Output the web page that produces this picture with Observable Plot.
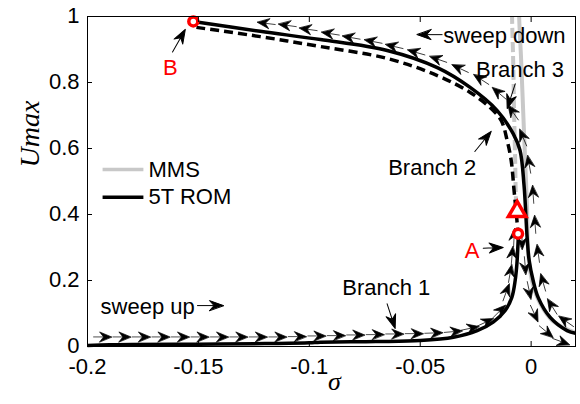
<!DOCTYPE html>
<html><head><meta charset="utf-8">
<script src="https://cdn.jsdelivr.net/npm/d3@7"></script>
<script src="https://cdn.jsdelivr.net/npm/@observablehq/plot@0.6"></script>
<style>
body{margin:0;background:#fff;}
#chart svg{display:block;}
</style></head><body><div id="chart"></div>
<script>
// ---------- data ----------
const xTicks = [-0.2, -0.15, -0.1, -0.05, 0];
const yTicks = [0, 0.2, 0.4, 0.6, 0.8, 1];

// 5T ROM, branch 1 (stable, lower)
const b1Sigma = [-0.2, -0.19, -0.18, -0.15, -0.12, -0.1, -0.095, -0.07, -0.05, -0.035, -0.0243, -0.0171, -0.0117, -0.0087, -0.0072, -0.0064, -0.006, -0.0057];
const b1U     = [0.003, 0.005, 0.006, 0.007, 0.009, 0.011, 0.013, 0.015, 0.018, 0.028, 0.048, 0.074, 0.109, 0.149, 0.2, 0.252, 0.301, 0.342];
// 5T ROM, branch 2 (unstable, dashed)
const b2Sigma = [-0.1509, -0.1221, -0.095, -0.0649, -0.0423, -0.0275, -0.0185, -0.0135, -0.0108, -0.009, -0.0077, -0.0068, -0.0059];
const b2U     = [0.967, 0.939, 0.909, 0.873, 0.821, 0.77, 0.724, 0.685, 0.624, 0.564, 0.473, 0.412, 0.342];
// 5T ROM, branch 3 (stable, upper)
const b3Sigma = [-0.1523, -0.1221, -0.095, -0.0649, -0.0423, -0.0275, -0.0153, -0.0081, -0.005, -0.0032, -0.0018, -0.0009, 0.0009, 0.0032, 0.0086, 0.0162, 0.02];
const b3U     = [0.985, 0.955, 0.93, 0.897, 0.845, 0.785, 0.715, 0.645, 0.594, 0.488, 0.33, 0.261, 0.2, 0.148, 0.088, 0.048, 0.04];
// MMS stable and unstable
const mmsSigma  = [-0.0054, -0.0054, -0.0045, -0.0036, -0.0027, -0.0018, -0.0014, -0.0005, 0.0009, 0.0041, 0.0095, 0.0176, 0.0203];
const mmsU      = [1.05, 1.0, 0.867, 0.715, 0.564, 0.412, 0.291, 0.23, 0.185, 0.13, 0.079, 0.048, 0.042];
const mmsUnSigma = [-0.0086, -0.0086, -0.0081, -0.0077, -0.0072, -0.0068, -0.0063];
const mmsUnU     = [1.05, 1.0, 0.867, 0.715, 0.564, 0.442, 0.409];

// sweep-up direction markers
const upSigma = [-0.1932, -0.1845, -0.1757, -0.1669, -0.1581, -0.1493, -0.1405, -0.1318, -0.123, -0.1142, -0.1054, -0.0966, -0.0878, -0.0791, -0.0703, -0.0615, -0.0527, -0.0439, -0.0351, -0.0275, -0.0207, -0.0144, -0.0113, -0.0095, -0.0086, -0.0077,
                 -0.0041, -0.0027, -0.0009, 0.0014, 0.0068, 0.0135];
const upU     = [0.029, 0.029, 0.029, 0.029, 0.029, 0.029, 0.029, 0.029, 0.029, 0.029, 0.03, 0.032, 0.033, 0.035, 0.036, 0.038, 0.039, 0.041, 0.045, 0.055, 0.073, 0.106, 0.164, 0.221, 0.276, 0.33,
                 0.321, 0.245, 0.17, 0.1, 0.045, 0.015];
const upAngle = [90, 90, 90, 90, 90, 90, 90, 90, 90, 90, 90, 90, 90, 90, 90, 90, 90, 88, 85, 78, 65, 45, 20, 10, 5, 3,
                 178, 175, 168, 155, 130, 110];
// sweep-down direction markers
const downSigma = [0.0158, 0.0095, 0.0054, 0.0032, 0.0018, 0.0009, -0.0009, -0.0036, -0.0081, -0.0144, -0.0225, -0.032, -0.0419, -0.0518, -0.0617, -0.0712, -0.0811, -0.0905, -0.1005, -0.1099, -0.1194];
const downU     = [0.076, 0.121, 0.194, 0.282, 0.37, 0.461, 0.552, 0.633, 0.709, 0.767, 0.809, 0.842, 0.87, 0.891, 0.909, 0.924, 0.936, 0.948, 0.961, 0.973, 0.979];
const downAngle = [305, 328, 344, 352, 356, 356, 350, 337, 325, 310, 303, 295, 289, 286, 283, 281, 280, 279, 278, 278, 277];

// special points
const circleSigma = [-0.1523, -0.0059];
const circleU     = [0.985, 0.342];
const triSigma = [-0.0063];
const triU     = [0.409];

// annotations
const labelText  = ["B", "A", "Branch 1", "Branch 2", "Branch 3"];
const labelSigma = [-0.1626, -0.0266, -0.0653, -0.0446, -0.005];
const labelU     = [0.845, 0.291, 0.176, 0.542, 0.839];
const labelColor = ["red", "red", "black", "black", "black"];
const sweepText  = ["sweep down", "sweep up"];
const sweepSigma = [-0.0396, -0.1941];
const sweepU     = [0.942, 0.121];
const annoTipSigma = [-0.1559, -0.0126, -0.0613, -0.018, -0.0108, -0.0514, -0.1387];
const annoTipU     = [0.961, 0.3, 0.0545, 0.652, 0.721, 0.945, 0.124];
const annoAngle    = [29.5, 88, 162, 39, 198, 270, 90];
const annoLen      = [26, 20, 26, 26, 26, 25, 26];

// legend
const legendNames = ["MMS", "5T ROM"];
const legendColors = ["#c8c8c8", "black"];
const legendU = [0.536, 0.452];
const legendSigma = [-0.1932, -0.1748, -0.1725];

// ---------- build tables ----------
const pts = (xs, ys) => xs.map((x, i) => ({x, y: ys[i]}));
const b1 = pts(b1Sigma, b1U), b2 = pts(b2Sigma, b2U), b3 = pts(b3Sigma, b3U);
const mms = pts(mmsSigma, mmsU), mmsUn = pts(mmsUnSigma, mmsUnU);
const upRows = upSigma.map((x, i) => ({x, y: upU[i], a: upAngle[i]}));
const downRows = downSigma.map((x, i) => ({x, y: downU[i], a: downAngle[i]}));
const circles = pts(circleSigma, circleU), tris = pts(triSigma, triU);
const labels = labelText.map((t, i) => ({t, x: labelSigma[i], y: labelU[i], c: labelColor[i]}));
const sweeps = sweepText.map((t, i) => ({t, x: sweepSigma[i], y: sweepU[i]}));
const annos = annoTipSigma.map((x, i) => ({x, y: annoTipU[i], a: annoAngle[i], len: annoLen[i]}));
const legend = legendNames.map((n, i) => ({n, c: legendColors[i], y: legendU[i]}));

function arrowShape(head, half, notch) {
  return {
    draw(ctx, l) {
      ctx.moveTo(0, 0);
      ctx.lineTo(0, -l + head - notch);
      ctx.moveTo(0, -l);
      ctx.lineTo(-half, -l + head);
      ctx.lineTo(0, -l + head - notch);
      ctx.lineTo(half, -l + head);
      ctx.closePath();
    }
  };
}
const quiver = arrowShape(12, 5, 4);
const pointer = arrowShape(14, 5, 4.5);

const font = "Liberation Sans, Arial, Helvetica, sans-serif";
const serif = "Liberation Serif, Times New Roman, serif";
const lineOpts = {x: "x", y: "y", curve: "catmull-rom", strokeLinecap: "butt"};

const chart = Plot.plot({
  width: 580, height: 404,
  marginLeft: 87, marginRight: 5, marginTop: 16, marginBottom: 58,
  x: {domain: [-0.2, 0.02]},
  y: {domain: [0, 1]},
  style: {fontFamily: font, fontSize: "22px", background: "white", color: "black", overflow: "visible"},
  marks: [
    // MMS (gray)
    Plot.line(mms, {...lineOpts, stroke: "#c8c8c8", strokeWidth: 4, clip: true}),
    Plot.line(mmsUn, {...lineOpts, stroke: "#c8c8c8", strokeWidth: 4, strokeDasharray: "10,4", clip: true}),
    // 5T ROM
    Plot.line(b1, {...lineOpts, stroke: "black", strokeWidth: 3.5}),
    Plot.line(b2, {...lineOpts, stroke: "black", strokeWidth: 3.5, strokeDasharray: "9,5"}),
    Plot.line(b3, {...lineOpts, stroke: "black", strokeWidth: 3.5}),
    // sweep markers
    Plot.vector(upRows, {x: "x", y: "y", rotate: "a", length: 18, anchor: "middle", shape: quiver, fill: "black", stroke: "black", strokeWidth: 0.7}),
    Plot.vector(downRows, {x: "x", y: "y", rotate: "a", length: 18, anchor: "middle", shape: quiver, fill: "black", stroke: "black", strokeWidth: 0.7}),
    // annotation pointers
    ...annos.map(d => Plot.vector([d], {x: "x", y: "y", rotate: "a", length: d.len, anchor: "end", shape: pointer, fill: "black", stroke: "black", strokeWidth: 1})),
    // red markers
    Plot.dot(circles, {x: "x", y: "y", r: 4.5, stroke: "red", strokeWidth: 3.5, fill: "white"}),
    Plot.dot(tris, {x: "x", y: "y", r: 6.5, symbol: "triangle", stroke: "red", strokeWidth: 3.5, fill: "white"}),
    // annotation text
    Plot.text(labels, {x: "x", y: "y", text: "t", fill: "c", fontSize: 22}),
    Plot.text(sweeps, {x: "x", y: "y", text: "t", textAnchor: "start", fontSize: 22}),
    // legend
    Plot.link(legend, {x1: () => legendSigma[0], x2: () => legendSigma[1], y1: "y", y2: "y", stroke: "c", strokeWidth: 3.5}),
    Plot.text(legend, {x: () => legendSigma[2], y: "y", text: "n", textAnchor: "start", fontSize: 22}),
    // axes
    Plot.frame({stroke: "black", strokeWidth: 1}),
    Plot.axisX(xTicks, {anchor: "bottom", tickSize: -5, tickFormat: () => "", label: null}),
    Plot.axisX(xTicks, {anchor: "bottom", tickSize: 0, tickPadding: 10, dy: 2, tickFormat: d => String(d), fontSize: 22, label: null}),
    Plot.axisX(xTicks, {anchor: "top", tickSize: -5, tickFormat: () => "", label: null}),
    Plot.axisY(yTicks, {anchor: "left", tickSize: -5, tickFormat: () => "", label: null}),
    Plot.axisY(yTicks, {anchor: "left", tickSize: 0, tickPadding: 8, dy: -1, tickFormat: d => String(d), fontSize: 22, label: null}),
    Plot.axisY(yTicks, {anchor: "right", tickSize: -5, tickFormat: () => "", label: null}),
    Plot.text(["σ"], {frameAnchor: "bottom", dy: 43, dx: 3, fontFamily: serif, fontStyle: "italic", fontSize: 26}),
    Plot.text(["Umax"], {frameAnchor: "left", dx: -57, dy: -14, rotate: -90, fontFamily: serif, fontStyle: "italic", fontSize: 28})
  ]
});
document.getElementById("chart").appendChild(chart);
</script>
</body></html>
